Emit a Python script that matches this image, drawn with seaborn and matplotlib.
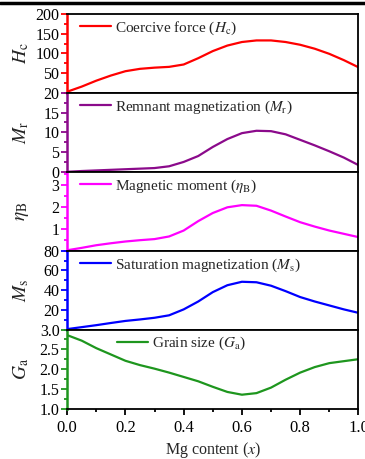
import numpy as np
import pandas as pd
import matplotlib
matplotlib.use("Agg")
import matplotlib.pyplot as plt
from matplotlib.ticker import MultipleLocator
from matplotlib.lines import Line2D
import seaborn as sns

# Mg content grid
mg_content = [0.00, 0.05, 0.10, 0.15, 0.20, 0.25, 0.30, 0.35, 0.40, 0.45, 0.50,
              0.55, 0.60, 0.65, 0.70, 0.75, 0.80, 0.85, 0.90, 0.95, 1.00]

coercive_force = [3, 16, 31, 44, 55, 61, 64, 66, 72, 88, 106,
                  120, 129, 133, 133, 129, 122, 112, 99, 83, 65]
remnant_mag = [0.0, 0.2, 0.35, 0.5, 0.65, 0.8, 0.95, 1.4, 2.5, 4.0, 6.3,
               8.3, 9.8, 10.4, 10.3, 9.5, 8.1, 6.7, 5.2, 3.6, 1.7]
magnetic_moment = [0.02, 0.13, 0.25, 0.34, 0.42, 0.48, 0.53, 0.65, 0.92, 1.35, 1.72,
                   1.98, 2.08, 2.05, 1.83, 1.56, 1.30, 1.10, 0.92, 0.77, 0.62]
saturation_mag = [0.5, 2.5, 4.5, 6.7, 8.8, 10.3, 12.0, 14.5, 20.5, 28.5, 38.0,
                  45.0, 48.5, 48.0, 44.5, 39.0, 33.0, 28.5, 24.5, 20.5, 17.0]
grain_size = [2.86, 2.72, 2.53, 2.37, 2.21, 2.10, 2.01, 1.91, 1.80, 1.69, 1.55,
              1.42, 1.35, 1.39, 1.53, 1.73, 1.91, 2.05, 2.15, 2.20, 2.25]

# panel definitions: (values, colour, ylabel, legend text, ylim, ticks, minor step, legend anchor)
panels = [
    (coercive_force, "#ff0000", r"$H_\mathrm{c}$", r"Coercive force ($H_\mathrm{c}$)",
     (0, 200), [50, 100, 150, 200], 25, (0.045, 0.93)),
    (remnant_mag, "#8b0a8b", r"$M_\mathrm{r}$", r"Remnant magnetization ($M_\mathrm{r}$)",
     (0, 20), [0, 5, 10, 15, 20], 2.5, (0.045, 0.93)),
    (magnetic_moment, "#ff00ff", r"$\eta_\mathrm{B}$", r"Magnetic moment ($\eta_\mathrm{B}$)",
     (0, 3.6), [1, 2, 3], 0.5, (0.045, 0.93)),
    (saturation_mag, "#0000ff", r"$M_\mathrm{s}$", r"Saturation magnetization ($M_\mathrm{s}$)",
     (0, 80), [20, 40, 60, 80], 10, (0.045, 0.93)),
    (grain_size, "#1e961e", r"$G_\mathrm{a}$", r"Grain size ($G_\mathrm{a}$)",
     (1.0, 3.0), [1.0, 1.5, 2.0, 2.5, 3.0], 0.25, (0.172, 0.93)),
]


def style_panel(ax, color, ylabel, ylim, ticks, minor, last):
    """Coloured left spine, black frame, outward ticks."""
    ax.set_xlim(0, 1)
    ax.set_ylim(*ylim)
    ax.set_yticks(ticks)
    if ylim[0] >= 1:
        ax.set_yticklabels([f"{t:.1f}" for t in ticks])
    ax.yaxis.set_minor_locator(MultipleLocator(minor))
    for side in ["top", "right", "bottom"]:
        ax.spines[side].set_color("black")
        ax.spines[side].set_linewidth(1.3)
    ax.spines["left"].set_color(color)
    ax.spines["left"].set_linewidth(1.8)
    ax.tick_params(axis="y", which="both", direction="out", colors=color,
                   labelcolor="black", labelsize=11.5, width=1.3, pad=1.5)
    ax.tick_params(axis="y", which="major", length=4)
    ax.tick_params(axis="y", which="minor", length=2.5)
    ax.set_ylabel(ylabel, fontsize=14)
    ax.yaxis.set_label_coords(-0.125, 0.5)
    if last:
        ax.set_xticks([0.0, 0.2, 0.4, 0.6, 0.8, 1.0])
        ax.xaxis.set_minor_locator(MultipleLocator(0.1))
        ax.tick_params(axis="x", which="both", direction="out", colors="black",
                       labelsize=12, width=1.3, pad=4)
        ax.tick_params(axis="x", which="major", length=4)
        ax.tick_params(axis="x", which="minor", length=2.5)
        ax.set_xlabel(r"Mg content ($x$)", fontsize=11.5, labelpad=3)
    else:
        # seaborn sets the column name as xlabel; drop it on stacked panels
        ax.set_xlabel("")
        ax.tick_params(axis="x", which="both", bottom=False, labelbottom=False)


def main():
    sns.set_theme(style="ticks")
    plt.rcParams["font.family"] = ["Liberation Serif", "DejaVu Serif"]
    plt.rcParams["mathtext.fontset"] = "stix"

    fig = plt.figure(figsize=(3.65, 4.59), dpi=100)
    gs = fig.add_gridspec(5, 1, left=0.184, right=0.982, top=0.9695, bottom=0.110, hspace=0)

    for i, (vals, color, ylabel, legtext, ylim, ticks, minor, anchor) in enumerate(panels):
        ax = fig.add_subplot(gs[i])
        df = pd.DataFrame({"x": mg_content, "y": vals})
        sns.lineplot(data=df, x="x", y="y", ax=ax, color=color, lw=1.6, label=legtext)
        style_panel(ax, color, ylabel, ylim, ticks, minor, i == len(panels) - 1)
        ax.legend(loc="upper left", bbox_to_anchor=anchor, frameon=False, fontsize=11,
                  handlelength=2.0, handletextpad=0.3, borderaxespad=0, borderpad=0)

    # black rule across the top of the figure
    fig.add_artist(Line2D([0, 1], [1 - 3 / 459, 1 - 3 / 459], color="black", lw=2.5,
                          transform=fig.transFigure))

    fig.savefig("out.png", dpi=100)
    plt.close(fig)


if __name__ == "__main__":
    main()
